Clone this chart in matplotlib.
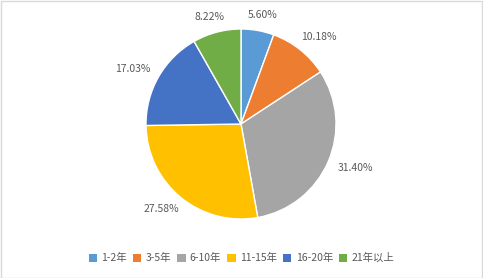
import matplotlib
matplotlib.use("Agg")
import matplotlib.pyplot as plt
import numpy as np
from matplotlib.patches import Rectangle

plt.rcParams['font.family'] = ['Noto Sans CJK SC', 'DejaVu Sans']

categories = ['1-2年', '3-5年', '6-10年', '11-15年', '16-20年', '21年以上']
values = [5.60, 10.18, 31.40, 27.58, 17.03, 8.22]
colors = ['#5B9BD5', '#ED7D31', '#A5A5A5', '#FFC000', '#4472C4', '#70AD47']

W, H = 483, 278
fig = plt.figure(figsize=(W/100, H/100), dpi=100)
fig.patches.append(Rectangle((0.5/W, 0.5/H), 1-1.5/W, 1-1.5/H, transform=fig.transFigure,
                             fill=False, edgecolor='#D9D9D9', linewidth=1))

cx, cy, r = 241, 124, 95
ax = fig.add_axes([(cx-r)/W, (H-cy-r)/H, 2*r/W, 2*r/H])
wedges, _ = ax.pie(values, colors=colors, startangle=90, counterclock=False,
                   wedgeprops=dict(edgecolor='white', linewidth=1), radius=1)
ax.set_xlim(-1, 1); ax.set_ylim(-1, 1)
ax.set_aspect('equal')

cum = 0
total = sum(values)
for v in values:
    mid = 90 - (cum + v/2) / total * 360
    cum += v
    a = np.deg2rad(mid)
    c, s = np.cos(a), np.sin(a)
    x = 1.1 * c + 20 * c / r
    y = 1.1 * s + 6 * s / r
    ax.text(x, y, f'{v:.2f}%', ha='center', va='center', fontsize=7.5, color='#595959',
            clip_on=False)

handles = [Rectangle((0, 0), 1, 1, facecolor=col) for col in colors]
fig.legend(handles, categories, loc='center', bbox_to_anchor=(0.5, 1-258/H), ncol=6,
           frameon=False, fontsize=7.5, handlelength=0.8, handleheight=0.8,
           handletextpad=0.4, columnspacing=0.6, labelcolor='#595959')

fig.savefig('out.png', dpi=100)
